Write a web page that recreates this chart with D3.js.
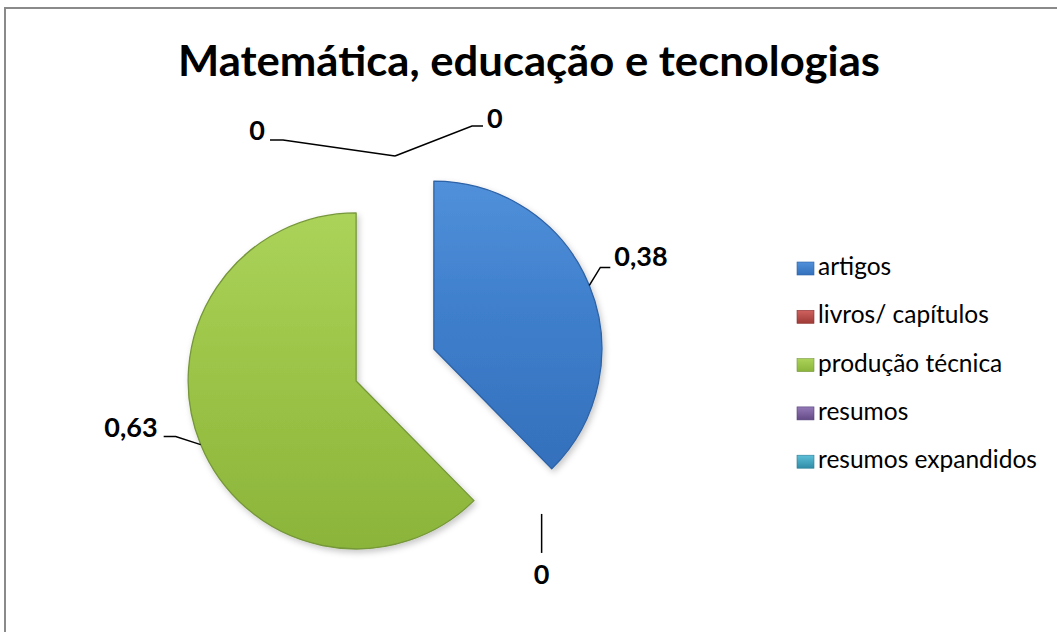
<!DOCTYPE html>
<html>
<head>
<meta charset="utf-8">
<script src="https://cdn.jsdelivr.net/npm/d3@7"></script>
<style>
  html, body { margin: 0; padding: 0; background: #fff; }
  svg { display: block; }
</style>
</head>
<body>
<svg id="chart" width="1057" height="632"></svg>
<script>
// ---- data ----
const title = "Matemática, educação e tecnologias";
const categories = ["artigos", "livros/ capítulos", "produção técnica", "resumos", "resumos expandidos"];
const values = [0.38, 0, 0.63, 0, 0];
const colors = ["#3F7FCC", "#C0504D", "#9CC548", "#8064A2", "#4BACC6"];
const sliceTop = ["#5190DA", "#D0625F", "#ABD35A", "#9479B8", "#5EC0DA"];
const sliceBottom = ["#3470BC", "#9E3A37", "#8BB43A", "#634A85", "#2F8CA6"];
const sliceStroke = ["#2D62A6", "#8A302D", "#76973A", "#54407A", "#287C93"];

// ---- layout ----
const W = 1057, H = 632;
const cx = 395, cy = 365, R = 168, explode = 42, zeroR = 209;
const font = "Lato, 'Open Sans', sans-serif";

const svg = d3.select("#chart");
const defs = svg.append("defs");

categories.forEach((c, i) => {
  const g = defs.append("linearGradient").attr("id", "g" + i)
    .attr("x1", 0).attr("y1", 0).attr("x2", 0).attr("y2", 1);
  g.append("stop").attr("offset", "0%").attr("stop-color", sliceTop[i]);
  g.append("stop").attr("offset", "45%").attr("stop-color", colors[i]);
  g.append("stop").attr("offset", "100%").attr("stop-color", sliceBottom[i]);
  const lg = defs.append("linearGradient").attr("id", "lg" + i)
    .attr("x1", 0).attr("y1", 0).attr("x2", 0).attr("y2", 1);
  lg.append("stop").attr("offset", "0%").attr("stop-color", sliceTop[i]);
  lg.append("stop").attr("offset", "100%").attr("stop-color", sliceBottom[i]);
});
const f = defs.append("filter").attr("id", "shadow")
  .attr("x", "-20%").attr("y", "-20%").attr("width", "140%").attr("height", "140%");
f.append("feDropShadow").attr("dx", 2).attr("dy", 3).attr("stdDeviation", 3)
  .attr("flood-color", "#000").attr("flood-opacity", 0.22);

// chart frame
svg.append("rect").attr("x", 5).attr("y", 8).attr("width", W + 20).attr("height", H + 20)
  .attr("fill", "#fff").attr("stroke", "#8a8a8a").attr("stroke-width", 2);

// title
const titleT = svg.append("text").attr("x", 529).attr("y", 76)
  .attr("text-anchor", "middle").attr("font-family", font).attr("font-weight", "bold")
  .attr("font-size", 42).attr("fill", "#000").text(title);
titleT.attr("textLength", 702).attr("lengthAdjust", "spacingAndGlyphs");

// pie
const pie = d3.pie().sort(null).value(d => d.v).startAngle(0).endAngle(2 * Math.PI);
const data = categories.map((c, i) => ({ c, v: values[i], i }));
const arcs = pie(data);
const arc = d3.arc().innerRadius(0).outerRadius(R);
const fmt = v => d3.format(".2~f")(v).replace(".", ",");
const dir = a => [Math.sin(a), -Math.cos(a)];

const gPie = svg.append("g");
arcs.filter(d => d.data.v > 0).forEach(d => {
  const mid = (d.startAngle + d.endAngle) / 2;
  const [ux, uy] = dir(mid);
  gPie.append("path")
    .attr("transform", `translate(${cx + ux * explode},${cy + uy * explode})`)
    .attr("d", arc(d))
    .attr("fill", `url(#g${d.data.i})`)
    .attr("stroke", sliceStroke[d.data.i]).attr("stroke-width", 1.3)
    .attr("stroke-linejoin", "round")
    .attr("filter", "url(#shadow)");
});

// label placement: elbow offset from anchor, horizontal run, text offset
const labelLayout = [
  { ex: 11, ey: -18, run: 10, tdx: 4, tdy: -1, anchor: "start" },   // artigos
  { ex: 0, ey: 39, run: 0, tdx: 0, tdy: 31, anchor: "middle" },     // livros
  { ex: -25, ey: -8, run: -12, tdx: -6, tdy: 0, anchor: "end" },   // produção técnica
  { ex: -112, ey: -16, run: -13, tdx: -5, tdy: 0, anchor: "end" }, // resumos
  { ex: 77, ey: -30, run: 11, tdx: 4, tdy: 2, anchor: "start" }     // resumos expandidos
];

const gLab = svg.append("g");
arcs.forEach(d => {
  const mid = (d.startAngle + d.endAngle) / 2;
  const [ux, uy] = dir(mid);
  const rr = d.data.v > 0 ? explode + R : zeroR;
  const ax = cx + ux * rr, ay = cy + uy * rr;
  const L = labelLayout[d.data.i];
  const exx = ax + L.ex, eyy = ay + L.ey;
  const endx = exx + L.run;
  gLab.append("polyline")
    .attr("points", [[ax, ay], [exx, eyy], [endx, eyy]].map(p => p.join(",")).join(" "))
    .attr("fill", "none").attr("stroke", "#000").attr("stroke-width", 1.5);
  gLab.append("text")
    .attr("x", endx + L.tdx).attr("y", eyy + L.tdy)
    .attr("text-anchor", L.anchor)
    .attr("font-family", font).attr("font-weight", "bold").attr("font-size", 27)
    .attr("fill", "#000").text(fmt(d.data.v));
});

// legend
const legend = svg.append("g");
const legY0 = 275, legStep = 48.3;
categories.forEach((c, i) => {
  const y = legY0 + i * legStep;
  legend.append("rect").attr("x", 797).attr("y", y - 13).attr("width", 17).attr("height", 13)
    .attr("fill", `url(#lg${i})`).attr("stroke", sliceStroke[i]).attr("stroke-width", 0.6);
  legend.append("text").attr("x", 818).attr("y", y)
    .attr("font-family", font).attr("font-size", 24.5).attr("fill", "#000").text(c);
});
{
  const texts = legend.selectAll("text").nodes();
  const k = 222 / texts[4].getComputedTextLength();
  if (k < 1) texts.forEach(t => {
    d3.select(t).attr("textLength", t.getComputedTextLength() * k).attr("lengthAdjust", "spacingAndGlyphs");
  });
}
</script>
</body>
</html>
